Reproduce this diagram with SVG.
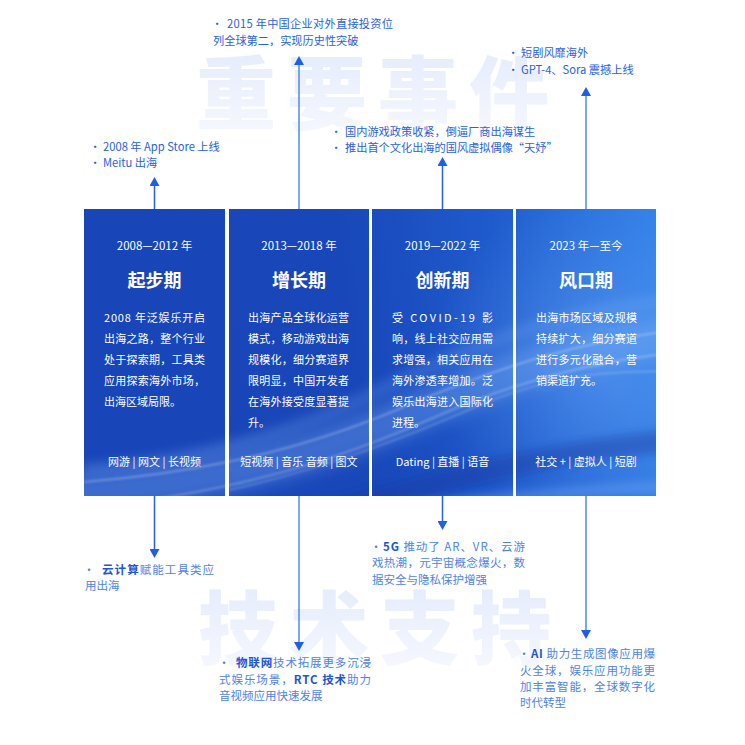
<svg xmlns="http://www.w3.org/2000/svg" xmlns:xlink="http://www.w3.org/1999/xlink" width="745" height="745" viewBox="0 0 745 745">
<style>
text{font-family:"Noto Sans CJK SC","Noto Sans",sans-serif;}
.ev{font-size:11.2px;fill:#2a62da;}
.tech{font-size:11.5px;fill:#4f83e3;}
.b{font-weight:700;fill:#1c55d5;}
.yr{font-size:11.5px;fill:#ffffff;text-anchor:middle;}
.ttl{font-size:18px;font-weight:700;fill:#ffffff;text-anchor:middle;}
.body{font-size:11px;fill:#ffffff;}
.tag{font-size:11px;fill:#ffffff;text-anchor:middle;}
.wm{font-size:80px;font-weight:900;letter-spacing:11px;fill:url(#wmg);}
.bul{text-anchor:middle;}
.ln{stroke-width:1.5;fill:none;}
.short{stroke:#2462e4;}
.long{stroke:#5089ea;}
</style>
<defs>
<linearGradient id="cardBg" gradientUnits="userSpaceOnUse" x1="84" y1="300" x2="656" y2="220">
<stop offset="0" stop-color="#1846b8"/>
<stop offset="0.45" stop-color="#1847b9"/>
<stop offset="0.72" stop-color="#1f5bcd"/>
<stop offset="1" stop-color="#3381e9"/>
</linearGradient>
<radialGradient id="glow" gradientUnits="userSpaceOnUse" cx="600" cy="360" r="170">
<stop offset="0" stop-color="#6aa8f7" stop-opacity="0.5"/>
<stop offset="1" stop-color="#6aa8f7" stop-opacity="0"/>
</radialGradient>
<linearGradient id="wmg" x1="0" y1="0" x2="0" y2="1">
<stop offset="0" stop-color="#e1e9fb"/>
<stop offset="1" stop-color="#f7f9fe"/>
</linearGradient>
<filter id="bl8" x="-20%" y="-100%" width="140%" height="300%"><feGaussianBlur stdDeviation="8"/></filter>
<filter id="bl4" x="-20%" y="-100%" width="140%" height="300%"><feGaussianBlur stdDeviation="4"/></filter>
<filter id="bl1" x="-20%" y="-100%" width="140%" height="300%"><feGaussianBlur stdDeviation="1"/></filter>
<clipPath id="c1"><rect x="84" y="209" width="141" height="287"/></clipPath>
<clipPath id="c2"><rect x="229" y="209" width="140" height="287"/></clipPath>
<clipPath id="c3"><rect x="372" y="209" width="141" height="287"/></clipPath>
<clipPath id="c4"><rect x="516" y="209" width="140" height="287"/></clipPath>
<g id="streaks">
<rect x="84" y="209" width="572" height="287" fill="url(#glow)"/>
<path d="M60 495 C220 485 330 450 420 410 C500 375 580 345 680 335" stroke="#7fb2f7" stroke-width="40" stroke-opacity="0.35" fill="none" filter="url(#bl8)"/>
<path d="M300 520 C420 490 520 455 680 440" stroke="#123a9e" stroke-width="22" stroke-opacity="0.4" fill="none" filter="url(#bl4)"/>
<path d="M380 512 C480 500 580 490 680 486" stroke="#6aa4f4" stroke-width="12" stroke-opacity="0.45" fill="none" filter="url(#bl4)"/>
<path d="M84 482 C230 470 330 440 420 400 C500 368 580 340 680 330" stroke="#ffffff" stroke-width="2" stroke-opacity="0.25" fill="none" filter="url(#bl1)"/>
<path d="M150 500 C280 480 360 450 440 415 C520 380 600 360 680 352" stroke="#ffffff" stroke-width="2.5" stroke-opacity="0.2" fill="none" filter="url(#bl1)"/>
<path d="M229 490 C320 470 400 440 480 405 C560 372 620 370 680 372" stroke="#ffffff" stroke-width="1.5" stroke-opacity="0.22" fill="none" filter="url(#bl1)"/>
<path d="M84 470 C200 462 300 430 380 390 C460 350 560 310 680 300" stroke="#8cbcf8" stroke-width="14" stroke-opacity="0.18" fill="none" filter="url(#bl4)"/>
</g>
<marker id="ah" markerUnits="userSpaceOnUse" markerWidth="9" markerHeight="10" viewBox="0 0 9 10" refX="4" refY="5" orient="auto">
<path d="M0 0 L9 5 L0 10 Z" fill="#1f5fe6"/>
</marker>
</defs>

<rect width="745" height="745" fill="#ffffff"/>

<g id="watermarks">
<text class="wm" x="196" y="123">重要事件</text>
<text class="wm" x="198" y="658">技术支持</text>
</g>

<g id="connectors">
<line class="ln short" x1="154.5" y1="209" x2="154.5" y2="182" marker-end="url(#ah)"/>
<line class="ln long" x1="299" y1="209" x2="299" y2="61" marker-end="url(#ah)"/>
<line class="ln short" x1="442.5" y1="209" x2="442.5" y2="162" marker-end="url(#ah)"/>
<line class="ln long" x1="586" y1="209" x2="586" y2="92" marker-end="url(#ah)"/>
<line class="ln short" x1="154.5" y1="496" x2="154.5" y2="553" marker-end="url(#ah)"/>
<line class="ln long" x1="299" y1="496" x2="299" y2="646" marker-end="url(#ah)"/>
<line class="ln short" x1="442.5" y1="496" x2="442.5" y2="525" marker-end="url(#ah)"/>
<line class="ln long" x1="586" y1="496" x2="586" y2="634" marker-end="url(#ah)"/>
</g>

<g id="card1">
<rect x="84" y="209" width="141" height="287" fill="url(#cardBg)"/>
<use xlink:href="#streaks" href="#streaks" clip-path="url(#c1)"/>
<text class="yr" x="154.5" y="250">2008—2012 年</text>
<text class="ttl" x="154.5" y="287">起步期</text>
<text class="body" x="104" y="322" textLength="101" lengthAdjust="spacing">2008 年泛娱乐开启</text>
<text class="body" x="104" y="343" textLength="101" lengthAdjust="spacing">出海之路，整个行业</text>
<text class="body" x="104" y="364" textLength="101" lengthAdjust="spacing">处于探索期，工具类</text>
<text class="body" x="104" y="385" textLength="101" lengthAdjust="spacing">应用探索海外市场，</text>
<text class="body" x="104" y="406">出海区域局限。</text>
<text class="tag" x="154.5" y="466">网游 | 网文 | 长视频</text>
</g>

<g id="card2">
<rect x="229" y="209" width="140" height="287" fill="url(#cardBg)"/>
<use xlink:href="#streaks" href="#streaks" clip-path="url(#c2)"/>
<text class="yr" x="299" y="250">2013—2018 年</text>
<text class="ttl" x="299" y="287">增长期</text>
<text class="body" x="248" y="322" textLength="101" lengthAdjust="spacing">出海产品全球化运营</text>
<text class="body" x="248" y="343" textLength="101" lengthAdjust="spacing">模式，移动游戏出海</text>
<text class="body" x="248" y="364" textLength="101" lengthAdjust="spacing">规模化，细分赛道界</text>
<text class="body" x="248" y="385" textLength="101" lengthAdjust="spacing">限明显，中国开发者</text>
<text class="body" x="248" y="406" textLength="101" lengthAdjust="spacing">在海外接受度显著提</text>
<text class="body" x="248" y="427">升。</text>
<text class="tag" x="299" y="466">短视频 | 音乐  音频 | 图文</text>
</g>

<g id="card3">
<rect x="372" y="209" width="141" height="287" fill="url(#cardBg)"/>
<use xlink:href="#streaks" href="#streaks" clip-path="url(#c3)"/>
<text class="yr" x="442.5" y="250">2019—2022 年</text>
<text class="ttl" x="442.5" y="287">创新期</text>
<text class="body" x="392" y="322" textLength="101" lengthAdjust="spacing">受 COVID-19 影</text>
<text class="body" x="392" y="343" textLength="101" lengthAdjust="spacing">响，线上社交应用需</text>
<text class="body" x="392" y="364" textLength="101" lengthAdjust="spacing">求增强，相关应用在</text>
<text class="body" x="392" y="385" textLength="101" lengthAdjust="spacing">海外渗透率增加。泛</text>
<text class="body" x="392" y="406" textLength="101" lengthAdjust="spacing">娱乐出海进入国际化</text>
<text class="body" x="392" y="427">进程。</text>
<text class="tag" x="442.5" y="466">Dating | 直播 | 语音</text>
</g>

<g id="card4">
<rect x="516" y="209" width="140" height="287" fill="url(#cardBg)"/>
<use xlink:href="#streaks" href="#streaks" clip-path="url(#c4)"/>
<text class="yr" x="586" y="250">2023 年—至今</text>
<text class="ttl" x="586" y="287">风口期</text>
<text class="body" x="536" y="322" textLength="101" lengthAdjust="spacing">出海市场区域及规模</text>
<text class="body" x="536" y="343" textLength="101" lengthAdjust="spacing">持续扩大，细分赛道</text>
<text class="body" x="536" y="364" textLength="101" lengthAdjust="spacing">进行多元化融合，营</text>
<text class="body" x="536" y="385">销渠道扩充。</text>
<text class="tag" x="586" y="466">社交 + | 虚拟人 | 短剧</text>
</g>

<g id="event1">
<text class="ev bul" x="95" y="151">·</text>
<text class="ev" x="103" y="151">2008 年 App Store 上线</text>
<text class="ev bul" x="95" y="167">·</text>
<text class="ev" x="103" y="167">Meitu 出海</text>
</g>
<g id="event2">
<text class="ev bul" x="217" y="28">·</text>
<text class="ev" x="227" y="28" textLength="166" lengthAdjust="spacing">2015 年中国企业对外直接投资位</text>
<text class="ev" x="213" y="45">列全球第二，实现历史性突破</text>
</g>
<g id="event3">
<text class="ev bul" x="336" y="136">·</text>
<text class="ev" x="345" y="136">国内游戏政策收紧，倒逼厂商出海谋生</text>
<text class="ev bul" x="336" y="152">·</text>
<text class="ev" x="345" y="152">推出首个文化出海的国风虚拟偶像“天妤”</text>
</g>
<g id="event4">
<text class="ev bul" x="513" y="57">·</text>
<text class="ev" x="521" y="57">短剧风靡海外</text>
<text class="ev bul" x="513" y="74">·</text>
<text class="ev" x="521" y="74">GPT-4、Sora 震撼上线</text>
</g>

<g id="tech1">
<text class="tech bul" x="89" y="574">·</text>
<text class="tech" x="102" y="574" textLength="112" lengthAdjust="spacing"><tspan class="b">云计算</tspan>赋能工具类应</text>
<text class="tech" x="85" y="590">用出海</text>
</g>
<g id="tech2">
<text class="tech bul" x="224" y="667">·</text>
<text class="tech" x="236" y="667" textLength="135" lengthAdjust="spacing"><tspan class="b">物联网</tspan>技术拓展更多沉浸</text>
<text class="tech" x="219" y="684" textLength="152" lengthAdjust="spacing">式娱乐场景，<tspan class="b">RTC  技术</tspan>助力</text>
<text class="tech" x="219" y="700">音视频应用快速发展</text>
</g>
<g id="tech3">
<text class="tech bul" x="376" y="551">·</text>
<text class="tech" x="383" y="551" textLength="142" lengthAdjust="spacing"><tspan class="b">5G</tspan> 推动了 AR、VR、云游</text>
<text class="tech" x="372" y="567" textLength="153" lengthAdjust="spacing">戏热潮，元宇宙概念爆火，数</text>
<text class="tech" x="372" y="584">据安全与隐私保护增强</text>
</g>
<g id="tech4">
<text class="tech bul" x="524" y="658">·</text>
<text class="tech" x="531" y="658" textLength="124" lengthAdjust="spacing"><tspan class="b">AI</tspan> 助力生成图像应用爆</text>
<text class="tech" x="520" y="675" textLength="135" lengthAdjust="spacing">火全球，娱乐应用功能更</text>
<text class="tech" x="520" y="691" textLength="135" lengthAdjust="spacing">加丰富智能，全球数字化</text>
<text class="tech" x="520" y="707">时代转型</text>
</g>
</svg>
